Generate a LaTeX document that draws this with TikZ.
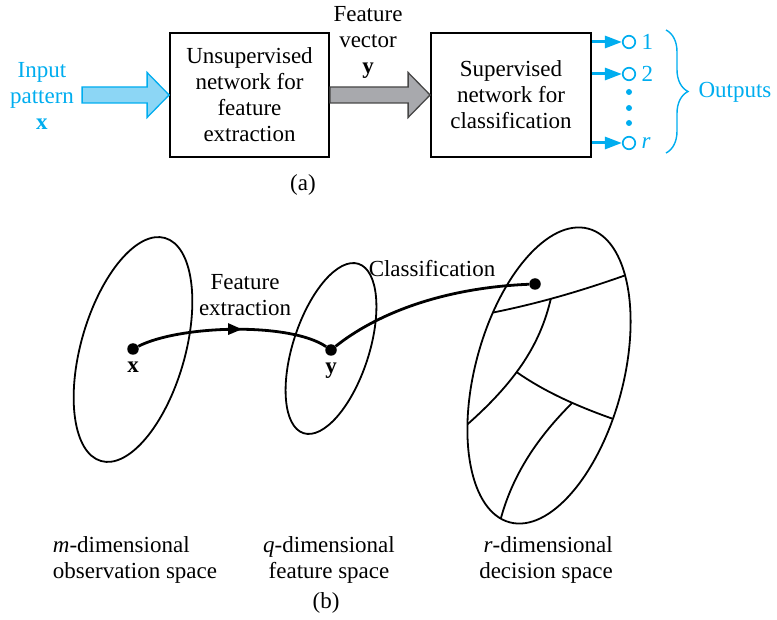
\documentclass[tikz,border=0pt]{standalone}
\usepackage{fontspec}
\setmainfont{Liberation Serif}
\usetikzlibrary{positioning,calc,arrows.meta,decorations.pathreplacing,decorations.markings}
\definecolor{hcyan}{RGB}{0,173,239}
\definecolor{hlight}{RGB}{140,214,245}
\definecolor{hgray}{RGB}{168,169,173}
\definecolor{hdark}{RGB}{70,70,70}

\tikzset{
  box/.style={draw, line width=1.8pt, align=center, minimum width=159pt, minimum height=124pt, inner sep=0pt},
  bluetxt/.style={text=hcyan, align=center},
  inarr/.style={draw=hcyan, fill=hlight, line width=1.3pt},
  featarr/.style={draw=hdark, fill=hgray, line width=1.3pt},
  outcirc/.style={circle, draw=hcyan, line width=1.7pt, minimum size=12.5pt, inner sep=0pt},
  outarr/.style={draw=hcyan, line width=3pt, -{Triangle[length=17pt,width=12pt]}},
  space/.style={line width=1.8pt},
  part/.style={line width=1.8pt},
  dot/.style={circle, fill, inner sep=0pt, minimum size=11.5pt},
  flow/.style={line width=2.8pt},
  midarrow/.style={postaction={decorate}, decoration={markings,
      mark=at position 0.55 with {\arrow{Triangle[length=14pt,width=11pt]}}}}
}

\begin{document}
\begin{tikzpicture}[x=1pt, y=-1pt, font=\fontsize{23}{26}\selectfont]
\useasboundingbox (0,0) rectangle (777,620);

% (a) block diagram
\node[box] (unsup) at (249.5,95) {Unsupervised\\network for\\feature\\extraction};
\node[box, minimum width=160pt] (sup) at (511,95) {Supervised\\network for\\classification};
\node[bluetxt] (inp) at (42,96) {Input\\pattern\\\textbf{x}};
\node[align=center] (fvec) at (368,42) {Feature\\vector\\\textbf{y}};

\draw[inarr] (unsup.west) -- ++(-22,-22.5) -- ++(0,14.5) -- ++(-65,0) -- ++(0,16)
  -- ++(65,0) -- ++(0,14.5) -- cycle;
\draw[featarr] (sup.west) -- ++(-22,-22.5) -- ++(0,14.5) -- ($(unsup.east)+(0,-8)$)
  -- ++(0,16) -- ($(sup.west)+(-22,8)$) -- ++(0,14.5) -- cycle;

\node[outcirc] (o1) at (629,42) {};
\node[outcirc] (o2) at (629,74) {};
\node[outcirc] (or) at (629,143) {};
\draw[outarr] (sup.east |- o1) -- (o1);
\draw[outarr] (sup.east |- o2) -- (o2);
\draw[outarr] (sup.east |- or) -- (or);
\node[bluetxt, right=2pt of o1] (l1) {1};
\node[bluetxt, right=2pt of o2] (l2) {2};
\node[bluetxt, right=2pt of or] (lr) {\textit{r}};
\foreach \yy in {92,108,123}
  \fill[hcyan] (629,\yy) circle (3pt);

\coordinate (btop) at (666,30);
\coordinate (bbot) at (666,153);
\draw[hcyan, line width=1.4pt, decorate, decoration={brace, amplitude=22pt}] (btop) -- (bbot);
\node[bluetxt, anchor=west] (outs) at (695,92) {Outputs};
\node (capa) at (303,185) {(a)};

% (b) spaces
\draw[space, rotate around={-16:(133,349.5)}] (133,349.5) ellipse (52pt and 116pt);
\draw[space, rotate around={-18:(331,348.5)}] (331,348.5) ellipse (38pt and 89pt);
\draw[space, rotate around={-15:(549,375.5)}] (549,375.5) ellipse (74pt and 152pt);

\begin{scope}
  \clip[rotate around={-15:(549,375.5)}] (549,375.5) ellipse (74pt and 152pt);
  \draw[part] (475,316) .. controls (530,306) and (580,292) .. (640,270) coordinate[pos=0.47] (ja);
  \draw[part] (ja) .. controls (540,345) and (515,385) .. (455,435) coordinate[pos=0.55] (jb);
  \draw[part] (jb) .. controls (545,392) and (580,408) .. (625,423) coordinate[pos=0.57] (jc);
  \draw[part] (jc) .. controls (540,435) and (510,475) .. (498,530);
\end{scope}

\node[dot] (px) at (133,349) {};
\node[dot] (py) at (331,350) {};
\node[dot] (pr) at (535,284) {};
\node[below=3pt of px] (lx) {\textbf{x}};
\node[below=3pt of py] (ly) {\textbf{y}};

\draw[flow, midarrow] (px) .. controls (180,325) and (290,322) .. (py);
\draw[flow] (py) .. controls (375,315) and (440,288) .. (pr);

\node[align=center] (fext) at (245,295) {Feature\\extraction};
\node (cls) at (432,269) {Classification};

\node[align=left] (mlab) at (135,560) {\textit{m}-dimensional\\observation space};
\node[align=center] (qlab) at (329,560) {\textit{q}-dimensional\\feature space};
\node[align=right] (rlab) at (546,560) {\textit{r}-dimensional\\decision space};
\node (capb) at (326,603) {(b)};
\end{tikzpicture}
\end{document}
